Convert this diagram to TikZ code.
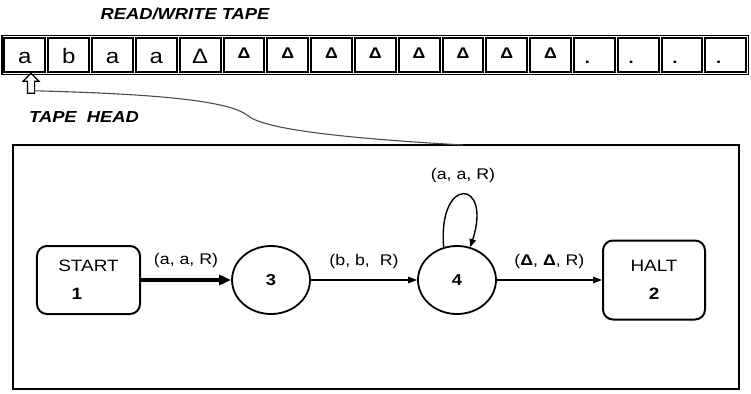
\documentclass[tikz,border=0pt]{standalone}
\usepackage{fontspec}
\setmainfont{Liberation Sans}[FakeStretch=1.15]
\usetikzlibrary{positioning, shapes.geometric, shapes.arrows, arrows.meta}

\newcommand{\tapedelta}{{\fontsize{21}{21}\selectfont Δ}}
\newcommand{\smalldelta}{\raisebox{4.5bp}{\bfseries\fontsize{15.5}{15.5}\selectfont Δ}}
\newcommand{\tapedot}{{\bfseries\fontsize{16}{16}\selectfont .}\hspace*{14bp}}

\begin{document}
\begin{tikzpicture}[x=1bp, y=1bp,
  cell/.style={draw, line width=2bp, minimum width=40.8bp, minimum height=34.5bp, inner sep=0pt,
    text height=16bp, text depth=0pt, font=\fontsize{21}{21}\selectfont},
  statebox/.style={draw, line width=2bp, rounded corners=10bp, align=center, font=\fontsize{16.5}{19}\selectfont},
  state/.style={draw, ellipse, line width=1.8bp, inner sep=0pt, minimum width=78bp, minimum height=68bp,
    font=\bfseries\fontsize{16}{19}\selectfont},
  edgelabel/.style={font=\fontsize{15.5}{18}\selectfont, above=7bp, midway},
  move/.style={line width=1.4bp, -{Triangle[length=9bp, width=6.5bp]}}]

  \useasboundingbox (0,0) rectangle (751,393);

  % the tape
  \node (title) at (185,379) {\bfseries\itshape\fontsize{16}{19}\selectfont READ/WRITE TAPE};
  \foreach \s [count=\i] in {a,b,a,a,\tapedelta,\smalldelta,\smalldelta,\smalldelta,\smalldelta,\smalldelta,\smalldelta,\smalldelta,\smalldelta,\tapedot,\tapedot,\tapedot,\tapedot}
    \node[cell] (c\i) at ({3+43.8*(\i-0.5)},338) {\s};
  \draw[line width=1.6bp] ([shift={(-1.2bp,-1.2bp)}]c1.south west) rectangle ([shift={(1.2bp,1.2bp)}]c17.north east);

  % tape head
  \node[single arrow, draw, line width=1.1bp, shape border rotate=90, minimum height=20bp, inner sep=3bp,
    single arrow head extend=4.5bp, single arrow tip angle=90] (head) at (31,308) {};
  \node (headlabel) at (84,276) {\bfseries\itshape\fontsize{16}{19}\selectfont TAPE\ \ HEAD};

  % the control unit
  \draw[line width=1.8bp] (13,4) rectangle (739,248);
  \coordinate (link) at (463,248);
  \draw[gray!60!black, line width=1.1bp] ([shift={(3bp,3bp)}]head.tail) .. controls (160,299) and (228,292) .. (247,278)
    .. controls (262,264) and (340,255) .. (link);

  \node[statebox, minimum width=103bp, minimum height=68bp] (start) at (88.5,113) {START\\[9bp]\textbf{1}\hspace*{23bp}};
  \node[state] (s3) at (271,113) {3};
  \node[state] (s4) at (457,113) {4};
  \node[statebox, minimum width=102bp, minimum height=79bp] (halt) at (654,113) {HALT\\[9bp]\textbf{2}};

  \draw[line width=3.2bp, -{Triangle[length=12bp, width=10bp]}] (start) -- (s3) node[edgelabel] {(a, a, R)};
  \draw[move] (s3) -- (s4) node[edgelabel] {(b, b,\ \ R)};
  \draw[move] (s4) -- (halt) node[edgelabel] {(\textbf{Δ}, \textbf{Δ}, R)};
  \draw[line width=1.4bp, -{Triangle[length=8bp, width=6.5bp]}] (s4.112) .. controls +(95:72) and +(72:72) .. (s4.68)
    node[pos=0.5, above=8bp, font=\fontsize{15.5}{18}\selectfont] {(a, a, R)};
\end{tikzpicture}
\end{document}
